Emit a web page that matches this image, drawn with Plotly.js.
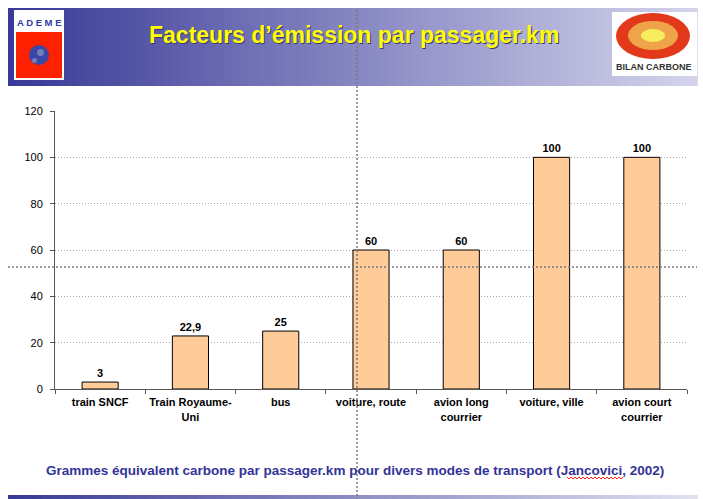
<!DOCTYPE html>
<html>
<head>
<meta charset="utf-8">
<script src="https://cdn.plot.ly/plotly-3.0.1.min.js"></script>
<style>
html,body{margin:0;padding:0;background:#fff;}
#chart{width:703px;height:499px;}
</style>
</head>
<body>
<div id="chart"></div>
<script>
// ---- data ----
var categories = ['train SNCF', 'Train Royaume-<br>Uni', 'bus', 'voiture, route', 'avion long<br>courrier', 'voiture, ville', 'avion court<br>courrier'];
var values = [3, 22.9, 25, 60, 60, 100, 100];
var valueLabels = values.map(function(v){ return String(v).replace('.', ','); });
var yTicks = [0, 20, 40, 60, 80, 100, 120];
var titleText = 'Facteurs d\u2019émission par passager.km';
var captionText = 'Grammes équivalent carbone par passager.km pour divers modes de transport (Jancovici, 2002)';

// ---- geometry helpers (pixel -> paper) ----
var W = 703, H = 499, L = 55, R = 687, T = 111, B = 389;
function px(x){ return (x - L) / (R - L); }
function py(y){ return (B - y) / (B - T); }

var FONT = 'Liberation Sans, Arial, sans-serif';
var shapes = [];
var annotations = [];

function lerp(a, b, t){ return Math.round(a + (b - a) * t); }
function grad(t, c0, c1){
  return 'rgb(' + lerp(c0[0], c1[0], t) + ',' + lerp(c0[1], c1[1], t) + ',' + lerp(c0[2], c1[2], t) + ')';
}
function gradientBand(x0, x1, y0, y1, c0, c1, n){
  var w = (x1 - x0) / n;
  for (var i = 0; i < n; i++){
    shapes.push({type:'rect', xref:'paper', yref:'paper', layer:'below',
      x0: px(x0 + i * w), x1: px(x0 + (i + 1) * w + 0.8), y0: py(y1), y1: py(y0),
      line:{width:0}, fillcolor: grad((i + 0.5) / n, c0, c1)});
  }
}
// header banner
gradientBand(8, 697, 8, 86, [56, 56, 150], [212, 212, 236], 80);
// bottom strip
gradientBand(8, 697, 495, 499, [56, 56, 150], [225, 225, 240], 80);

// ADEME logo
shapes.push({type:'rect', xref:'paper', yref:'paper', x0:px(14), x1:px(64), y0:py(80), y1:py(10), fillcolor:'#ffffff', line:{width:0}});
shapes.push({type:'rect', xref:'paper', yref:'paper', x0:px(16), x1:px(62), y0:py(78), y1:py(32), fillcolor:'#ff2200', line:{width:0}});
shapes.push({type:'circle', xref:'paper', yref:'paper', x0:px(29), x1:px(49), y0:py(65), y1:py(45), fillcolor:'#3a47a8', line:{width:0}});
shapes.push({type:'circle', xref:'paper', yref:'paper', x0:px(37), x1:px(44), y0:py(56), y1:py(49), fillcolor:'#6f7fb8', line:{width:0}});
shapes.push({type:'circle', xref:'paper', yref:'paper', x0:px(32), x1:px(37), y0:py(63), y1:py(58), fillcolor:'#6f7fb8', line:{width:0}});
annotations.push({xref:'paper', yref:'paper', x:px(39), y:py(22), text:'A D E M E', showarrow:false,
  font:{family:FONT, size:9.5, color:'#2f3aa8', weight:'bold'}, xanchor:'center', yanchor:'middle'});

// BILAN CARBONE logo
shapes.push({type:'rect', xref:'paper', yref:'paper', x0:px(612), x1:px(697), y0:py(76), y1:py(12), fillcolor:'#ffffff', line:{width:0}});
shapes.push({type:'circle', xref:'paper', yref:'paper', x0:px(616), x1:px(690), y0:py(59), y1:py(13), fillcolor:'#e2391b', line:{width:0}});
shapes.push({type:'circle', xref:'paper', yref:'paper', x0:px(628), x1:px(678), y0:py(50), y1:py(21), fillcolor:'#efa44a', line:{width:0}});
shapes.push({type:'circle', xref:'paper', yref:'paper', x0:px(641), x1:px(665), y0:py(42), y1:py(29), fillcolor:'#f6ee5e', line:{width:0}});
annotations.push({xref:'paper', yref:'paper', x:px(654), y:py(67), text:'BILAN CARBONE', showarrow:false,
  font:{family:FONT, size:9, color:'#333333', weight:'bold'}, xanchor:'center', yanchor:'middle'});

// title with shadow
annotations.push({xref:'paper', yref:'paper', x:px(354), y:py(35), text:titleText, showarrow:false,
  xshift:1, yshift:-1, font:{family:FONT, size:23, color:'#3a3a70', weight:'bold'}, xanchor:'center', yanchor:'middle'});
annotations.push({xref:'paper', yref:'paper', x:px(354), y:py(35), text:titleText, showarrow:false,
  font:{family:FONT, size:23, color:'#ffff00', weight:'bold'}, xanchor:'center', yanchor:'middle'});

// caption
annotations.push({xref:'paper', yref:'paper', x:px(355), y:py(470), text:captionText, showarrow:false,
  font:{family:FONT, size:13.5, color:'#333399', weight:'bold'}, xanchor:'center', yanchor:'middle'});
// spell-check squiggle under "Jancovici" (zigzag path)
(function(){
  var d = 'M' + px(567) + ',' + py(477);
  for (var x = 567, k = 0; x < 622; x += 2, k++){
    d += ' L' + px(x + 2) + ',' + py(k % 2 ? 477 : 479);
  }
  shapes.push({type:'path', xref:'paper', yref:'paper', path:d, line:{color:'#ff2020', width:1}});
})();

// crosshair guide lines
shapes.push({type:'line', xref:'paper', yref:'paper', x0:px(8), x1:px(697), y0:py(267), y1:py(267),
  line:{color:'#7a7a7a', width:1.5, dash:'2px,2px'}, layer:'above'});
shapes.push({type:'line', xref:'paper', yref:'paper', x0:px(357), x1:px(357), y0:py(10), y1:py(499),
  line:{color:'#7a7a7a', width:1.5, dash:'2px,2px'}, layer:'above'});

var trace = {
  type:'bar',
  x: categories,
  y: values,
  text: valueLabels,
  textposition:'outside',
  textfont:{family:FONT, size:11, color:'#000000', weight:'bold'},
  cliponaxis:false,
  marker:{color:'#ffcc99', line:{color:'#000000', width:1}},
  hoverinfo:'skip'
};

var layout = {
  width:W, height:H,
  margin:{l:L, r:W - R, t:T, b:H - B, pad:0},
  paper_bgcolor:'#ffffff',
  plot_bgcolor:'rgba(0,0,0,0)',
  showlegend:false,
  bargap:0.6,
  xaxis:{
    type:'category',
    showline:true, linecolor:'#555555', linewidth:1,
    ticks:'outside', tickson:'boundaries', ticklen:4, tickcolor:'#555555',
    tickfont:{family:FONT, size:11, color:'#000000', weight:'bold'},
    tickangle:0,
    ticklabelstandoff:3,
    showgrid:false, zeroline:false, fixedrange:true
  },
  yaxis:{
    range:[0, 120], tickvals:yTicks, ticktext:yTicks.map(String),
    showline:true, linecolor:'#555555', linewidth:1,
    ticks:'outside', ticklen:4, tickcolor:'#555555',
    tickfont:{family:FONT, size:11, color:'#000000'},
    ticklabelstandoff:5,
    showgrid:true, gridcolor:'#a8a8a8', gridwidth:1, griddash:'1px,2px',
    zeroline:false, fixedrange:true
  },
  shapes:shapes,
  annotations:annotations
};

Plotly.newPlot('chart', [trace], layout, {displayModeBar:false, staticPlot:true});
</script>
</body>
</html>
